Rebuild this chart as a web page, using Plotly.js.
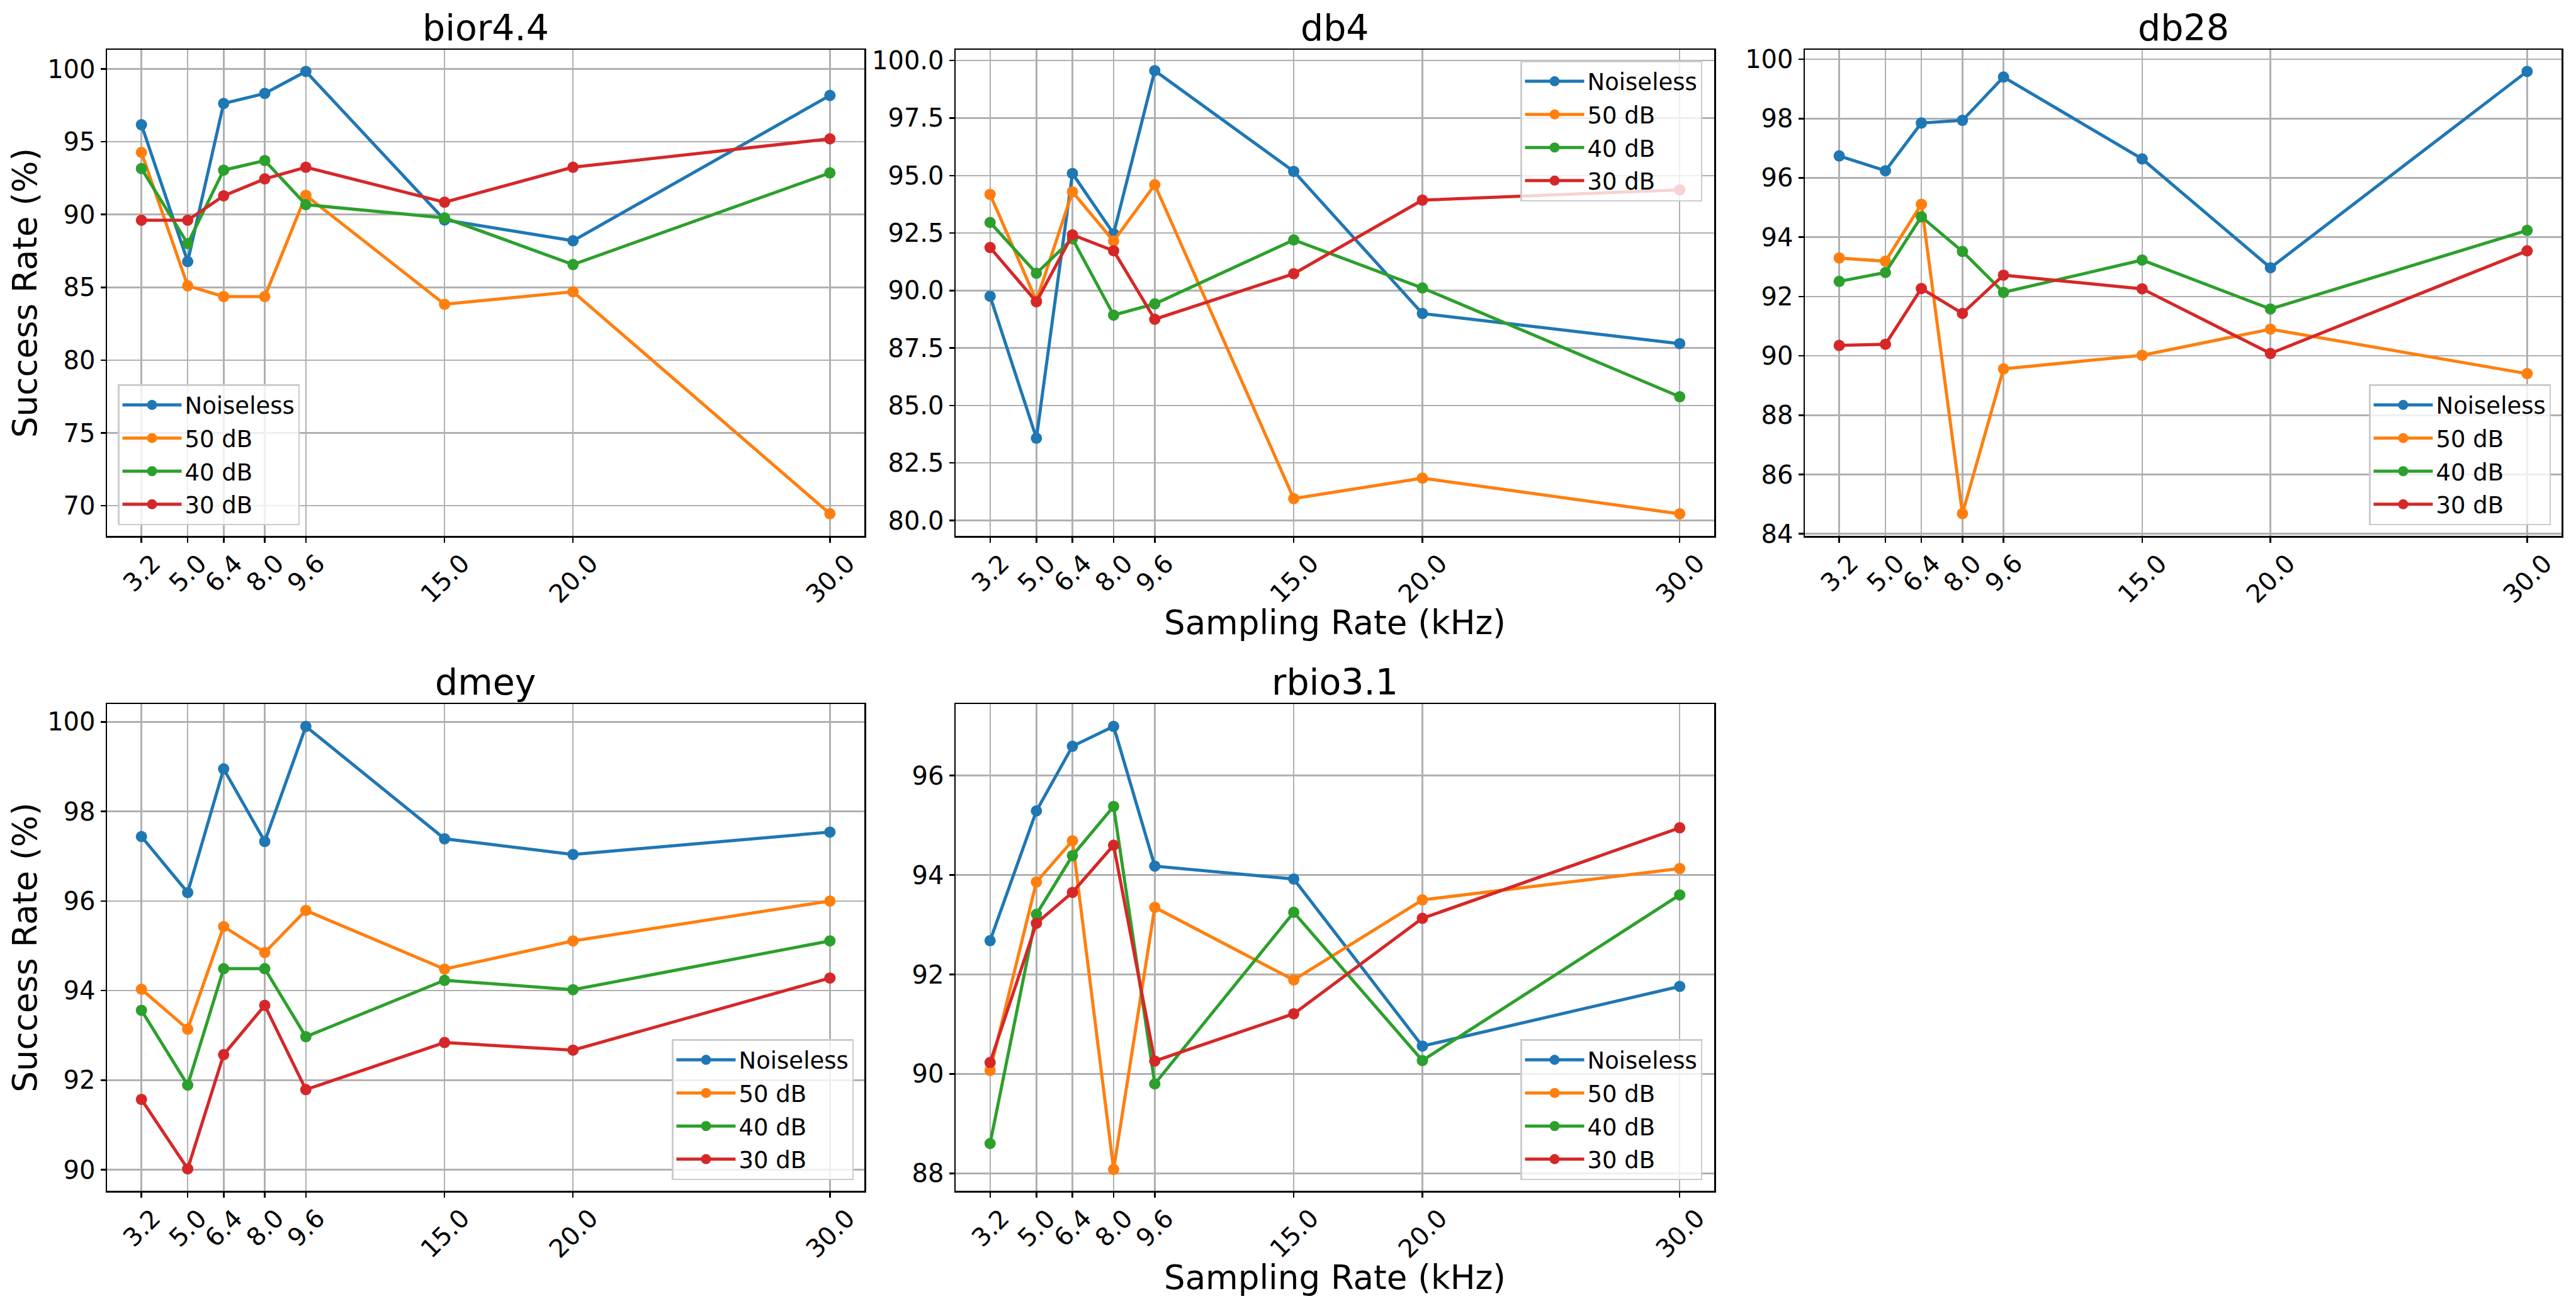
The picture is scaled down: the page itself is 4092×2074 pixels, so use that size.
<!DOCTYPE html>
<html><head><meta charset="utf-8">
<script src="https://cdn.plot.ly/plotly-3.0.1.min.js"></script>
<style>html,body{margin:0;padding:0;background:#fff}#chart{width:4092px;height:2074px}</style>
</head><body><div id="chart"></div>
<script>
// ---------- data ----------
const samplingRates = [3.2, 5.0, 6.4, 8.0, 9.6, 15.0, 20.0, 30.0];
const tickLabels = ['3.2', '5.0', '6.4', '8.0', '9.6', '15.0', '20.0', '30.0'];
const seriesNames = ['Noiseless', '50 dB', '40 dB', '30 dB'];
const waveletNames = ['bior4.4', 'db4', 'db28', 'dmey', 'rbio3.1'];

const bior44_noiseless = [96.17, 86.77, 97.63, 98.32, 99.83, 89.63, 88.20, 98.18];
const bior44_50dB      = [94.27, 85.11, 84.37, 84.37, 91.32, 83.84, 84.70, 69.45];
const bior44_40dB      = [93.16, 88.00, 93.05, 93.71, 90.68, 89.77, 86.57, 92.86];
const bior44_30dB      = [89.61, 89.61, 91.29, 92.45, 93.25, 90.85, 93.25, 95.20];

const db4_noiseless = [89.75, 83.58, 95.09, 92.47, 99.56, 95.18, 89.00, 87.69];
const db4_50dB      = [94.18, 89.56, 94.29, 92.15, 94.60, 80.95, 81.84, 80.29];
const db4_40dB      = [92.96, 90.75, 92.25, 88.93, 89.42, 92.20, 90.11, 85.38];
const db4_30dB      = [91.87, 89.51, 92.42, 91.73, 88.75, 90.73, 93.93, 94.38];

const db28_noiseless = [96.74, 96.24, 97.85, 97.94, 99.40, 96.64, 92.97, 99.59];
const db28_50dB      = [93.30, 93.19, 95.11, 84.68, 89.56, 90.02, 90.90, 89.40];
const db28_40dB      = [92.51, 92.81, 94.69, 93.52, 92.14, 93.23, 91.58, 94.23];
const db28_30dB      = [90.35, 90.39, 92.27, 91.43, 92.72, 92.26, 90.08, 93.54];

const dmey_noiseless = [97.44, 96.19, 98.95, 97.33, 99.90, 97.39, 97.04, 97.54];
const dmey_50dB      = [94.03, 93.14, 95.43, 94.85, 95.79, 94.48, 95.11, 96.00];
const dmey_40dB      = [93.56, 91.89, 94.49, 94.49, 92.97, 94.23, 94.02, 95.11];
const dmey_30dB      = [91.57, 90.02, 92.57, 93.67, 91.79, 92.84, 92.67, 94.28];

const rbio31_noiseless = [92.68, 95.29, 96.59, 96.99, 94.18, 93.92, 90.56, 91.76];
const rbio31_50dB      = [90.07, 93.86, 94.69, 88.08, 93.35, 91.89, 93.50, 94.13];
const rbio31_40dB      = [88.60, 93.21, 94.39, 95.38, 89.80, 93.25, 90.27, 93.60];
const rbio31_30dB      = [90.23, 93.03, 93.65, 94.60, 90.26, 91.21, 93.13, 94.95];

const yTickSteps   = [5, 2.5, 2, 2, 2];
const yTickFormats = ['d', '.1f', 'd', 'd', 'd'];
const yRanges = [[67.93, 101.32], [79.33, 100.47], [83.93, 100.32], [89.53, 100.40], [87.65, 97.44]];
const xRange = [1.86, 31.34];
const xTitle = 'Sampling Rate (kHz)';
const yTitle = 'Success Rate (%)';

// ---------- styling / layout ----------
const allSeries = [
  [bior44_noiseless, bior44_50dB, bior44_40dB, bior44_30dB],
  [db4_noiseless, db4_50dB, db4_40dB, db4_30dB],
  [db28_noiseless, db28_50dB, db28_40dB, db28_30dB],
  [dmey_noiseless, dmey_50dB, dmey_40dB, dmey_30dB],
  [rbio31_noiseless, rbio31_50dB, rbio31_40dB, rbio31_30dB]
];
const colors = ['#1f77b4', '#ff7f0e', '#2ca02c', '#d62728'];
const W = 4092, H = 2074;
const FONT = 'DejaVu Sans, Verdana, sans-serif';
const TICK = 40;
const xDomains = [[170, 1373], [1518, 2723], [2867, 4069], [170, 1373], [1518, 2723]].map(d => [d[0] / W, d[1] / W]);
const yDomainsPx = [[79, 851], [79, 851], [79, 851], [1118, 1891], [1118, 1891]];
const yDomains = yDomainsPx.map(d => [1 - d[1] / H, 1 - d[0] / H]);
const legendPos = [
  {x: 187 / W, y: 1 - 834 / H, xanchor: 'left', yanchor: 'bottom'},
  {x: 2704 / W, y: 1 - 96 / H, xanchor: 'right', yanchor: 'top'},
  {x: 4052 / W, y: 1 - 834 / H, xanchor: 'right', yanchor: 'bottom'},
  {x: 1356 / W, y: 1 - 1874 / H, xanchor: 'right', yanchor: 'bottom'},
  {x: 2704 / W, y: 1 - 1874 / H, xanchor: 'right', yanchor: 'bottom'}
];

const traces = [];
const layout = {
  width: W, height: H,
  margin: {l: 0, r: 0, t: 0, b: 0},
  paper_bgcolor: '#fff', plot_bgcolor: '#fff',
  font: {family: FONT, color: '#000', size: TICK},
  showlegend: true,
  annotations: []
};

allSeries.forEach((group, i) => {
  const n = i + 1;
  const sfx = n === 1 ? '' : String(n);
  const legendId = 'legend' + sfx;
  group.forEach((vals, k) => {
    traces.push({
      type: 'scatter', mode: 'lines+markers',
      x: samplingRates, y: vals, name: seriesNames[k],
      xaxis: 'x' + sfx, yaxis: 'y' + sfx, legend: legendId,
      legendgroup: 'g' + n + '_' + k,
      line: {color: colors[k], width: 5},
      marker: {color: colors[k], size: 18}
    });
  });
  const axCommon = {
    showgrid: true, gridcolor: '#b0b0b0', gridwidth: 2.5,
    showline: true, mirror: true, linecolor: '#000', linewidth: 2.5,
    ticks: 'outside', ticklen: 8, tickwidth: 2.5, tickcolor: '#000',
    zeroline: false, tickfont: {family: FONT, size: TICK, color: '#000'}
  };
  layout['xaxis' + sfx] = Object.assign({}, axCommon, {
    domain: xDomains[i], anchor: 'y' + sfx, range: xRange,
    tickmode: 'array', tickvals: samplingRates, showticklabels: false,
    title: (n === 2 || n === 5) ? {text: xTitle, font: {family: FONT, size: 53, color: '#000'}, standoff: 110} : {text: ''}
  });
  layout['yaxis' + sfx] = Object.assign({}, axCommon, {
    domain: yDomains[i], anchor: 'x' + sfx, range: yRanges[i],
    tickmode: 'linear', tick0: 0, dtick: yTickSteps[i], tickformat: yTickFormats[i],
    title: (n === 1 || n === 4) ? {text: yTitle, font: {family: FONT, size: 53, color: '#000'}, standoff: 0} : {text: ''}
  });
  layout[legendId] = Object.assign({}, legendPos[i], {
    bgcolor: 'rgba(255,255,255,0.8)', bordercolor: '#cccccc', borderwidth: 2.5,
    font: {family: FONT, size: 37, color: '#000'}, itemwidth: 94,
    traceorder: 'grouped', tracegroupgap: 1.5
  });
  // subplot title
  layout.annotations.push({
    text: waveletNames[i], xref: 'x' + sfx + ' domain', x: 0.5, yref: 'paper', y: yDomains[i][1],
    xanchor: 'center', yanchor: 'bottom', yshift: 0, showarrow: false,
    font: {family: FONT, size: 57, color: '#000'}
  });
  // rotated x tick labels (centred on tick, like matplotlib)
  samplingRates.forEach((v, j) => {
    layout.annotations.push({
      text: tickLabels[j], xref: 'x' + sfx, x: v, yref: 'paper', y: yDomains[i][0],
      xanchor: 'center', yanchor: 'top', yshift: -17, textangle: -45, showarrow: false,
      font: {family: FONT, size: TICK, color: '#000'}
    });
  });
});

Plotly.newPlot('chart', traces, layout, {staticPlot: true, displayModeBar: false});
</script>
</body></html>
